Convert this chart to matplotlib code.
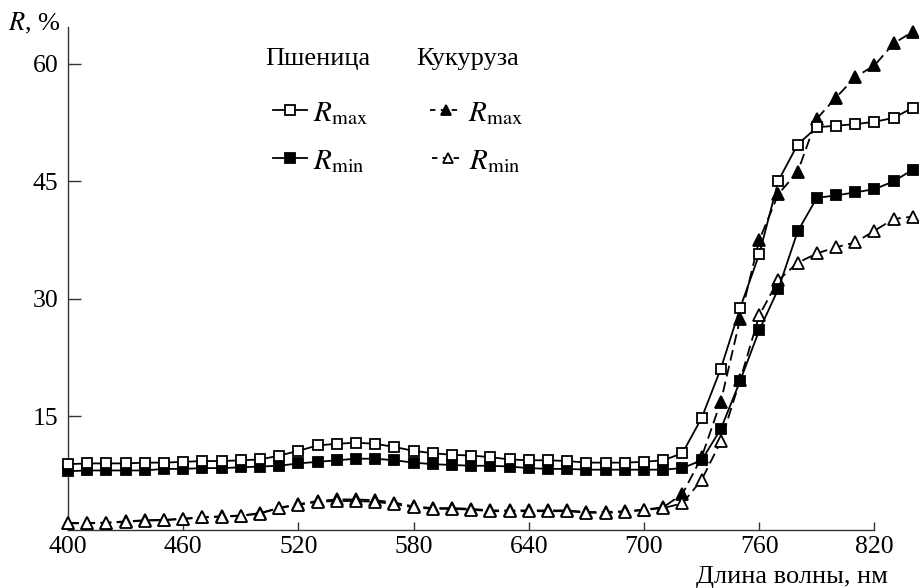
import matplotlib
matplotlib.use("Agg")
import matplotlib.pyplot as plt
from matplotlib.lines import Line2D

plt.rcParams['font.family'] = ['Liberation Serif', 'DejaVu Serif']
plt.rcParams['mathtext.fontset'] = 'stix'

wavelength = [400, 410, 420, 430, 440, 450, 460, 470, 480, 490,
              500, 510, 520, 530, 540, 550, 560, 570, 580, 590,
              600, 610, 620, 630, 640, 650, 660, 670, 680, 690,
              700, 710, 720, 730, 740, 750, 760, 770, 780, 790,
              800, 810, 820, 830, 840]

wheat_rmax = [8.9, 9.0, 9.0, 9.0, 9.1, 9.1, 9.2, 9.3, 9.3, 9.4,
              9.5, 10.0, 10.6, 11.3, 11.5, 11.65, 11.5, 11.1, 10.6, 10.3,
              10.1, 10.0, 9.8, 9.5, 9.4, 9.4, 9.3, 9.1, 9.1, 9.1,
              9.2, 9.4, 10.3, 14.8, 21.1, 28.8, 35.7, 45.1, 49.7, 51.9,
              52.1, 52.3, 52.6, 53.1, 54.4]

wheat_rmin = [8.0, 8.1, 8.1, 8.1, 8.1, 8.3, 8.3, 8.4, 8.4, 8.5,
              8.6, 8.7, 9.0, 9.2, 9.4, 9.6, 9.6, 9.4, 9.1, 8.9,
              8.8, 8.7, 8.7, 8.6, 8.4, 8.3, 8.3, 8.2, 8.2, 8.2,
              8.2, 8.2, 8.4, 9.4, 13.4, 19.5, 26.0, 31.3, 38.6, 42.9,
              43.2, 43.6, 44.0, 45.0, 46.5]

corn_rmax = [1.4, 1.4, 1.45, 1.6, 1.75, 1.8, 1.95, 2.15, 2.25, 2.35,
             2.65, 3.35, 3.8, 4.2, 4.4, 4.4, 4.3, 4.0, 3.5, 3.3,
             3.3, 3.2, 3.0, 3.0, 3.0, 3.0, 3.0, 2.8, 2.8, 2.9,
             3.1, 3.4, 5.1, 9.8, 16.9, 27.4, 37.5, 43.4, 46.2, 53.0,
             55.7, 58.3, 59.8, 62.6, 64.1]

corn_rmin = [1.35, 1.35, 1.4, 1.55, 1.7, 1.75, 1.9, 2.1, 2.2, 2.3,
             2.6, 3.3, 3.7, 4.1, 4.2, 4.2, 4.1, 3.8, 3.4, 3.2,
             3.2, 3.1, 2.9, 2.9, 2.9, 2.9, 2.9, 2.7, 2.7, 2.8,
             3.05, 3.3, 3.9, 6.9, 11.8, 19.6, 27.9, 32.4, 34.6, 35.8,
             36.6, 37.2, 38.7, 40.2, 40.5]

x_ticks = [400, 460, 520, 580, 640, 700, 760, 820]
y_ticks = [15, 30, 45, 60]

W, H = 919, 588
fig = plt.figure(figsize=(W / 100, H / 100), dpi=100)
ax = fig.add_axes([68 / W, (H - 530) / H, (W - 68) / W, (530 - 27) / H])

ax.set_xlim(400, 843.2)
ax.set_ylim(0.5, 64.7)

dash = (0, (6, 3))
ms = 8
mew = 1.3
ax.plot(wavelength, corn_rmax, linestyle=dash, color='black', lw=1.3,
        marker='^', ms=ms, mfc='black', mec='black', mew=mew, clip_on=False, zorder=3)
ax.plot(wavelength, corn_rmin, linestyle=dash, color='black', lw=1.3,
        marker='^', ms=ms, mfc='white', mec='black', mew=mew, clip_on=False, zorder=4)
ax.plot(wavelength, wheat_rmin, linestyle='-', color='black', lw=1.3,
        marker='s', ms=7, mfc='black', mec='black', mew=mew, clip_on=False, zorder=5)
ax.plot(wavelength, wheat_rmax, linestyle='-', color='black', lw=1.3,
        marker='s', ms=7, mfc='white', mec='black', mew=mew, clip_on=False, zorder=6)

for s in ['top', 'right']:
    ax.spines[s].set_visible(False)
ax.spines['bottom'].set_bounds(400, 820)
for s in ['left', 'bottom']:
    ax.spines[s].set_color('#333333')
    ax.spines[s].set_linewidth(1.0)

ax.set_xticks(x_ticks)
ax.set_yticks(y_ticks)
ax.tick_params(axis='both', direction='in', labelsize=18.5, color='#333333', width=1.0)
ax.tick_params(axis='x', length=6, pad=4)
ax.tick_params(axis='y', length=9, pad=7)

fig.text(888 / W, 1 - 577 / H, 'Длина волны, нм', ha='right', va='center', fontsize=19)
fig.text(8 / W, 1 - 23 / H, r'$R$, %', ha='left', va='center', fontsize=19)

# Legend (manual)
def fx(px):
    return px / W

def fy(py):
    return 1 - py / H

fig.text(fx(318), fy(59), 'Пшеница', ha='center', va='center', fontsize=19)
fig.text(fx(468), fy(59), 'Кукуруза', ha='center', va='center', fontsize=19)

entries = [
    (273, 307, 110, '-', 's', 'white', r'$R_{\mathrm{max}}$'),
    (273, 307, 158, '-', 's', 'black', r'$R_{\mathrm{min}}$'),
    (430, 462, 110, (0, (3, 3)), '^', 'black', r'$R_{\mathrm{max}}$'),
    (432, 463, 158, (0, (3, 3)), '^', 'white', r'$R_{\mathrm{min}}$'),
]
for x0, x1, yy, ls, mk, fc, label in entries:
    ln = Line2D([fx(x0), fx(x1)], [fy(yy), fy(yy)], transform=fig.transFigure,
                color='black', lw=1.3, linestyle=ls)
    fig.add_artist(ln)
    mkr = Line2D([fx((x0 + x1) / 2)], [fy(yy)], transform=fig.transFigure,
                 marker=mk, ms=7, mfc=fc, mec='black', mew=1.3, linestyle='none')
    fig.add_artist(mkr)
    fig.text(fx(x1 + 6), fy(yy + 4), label, ha='left', va='center', fontsize=21)

fig.savefig('out.png', dpi=100)
